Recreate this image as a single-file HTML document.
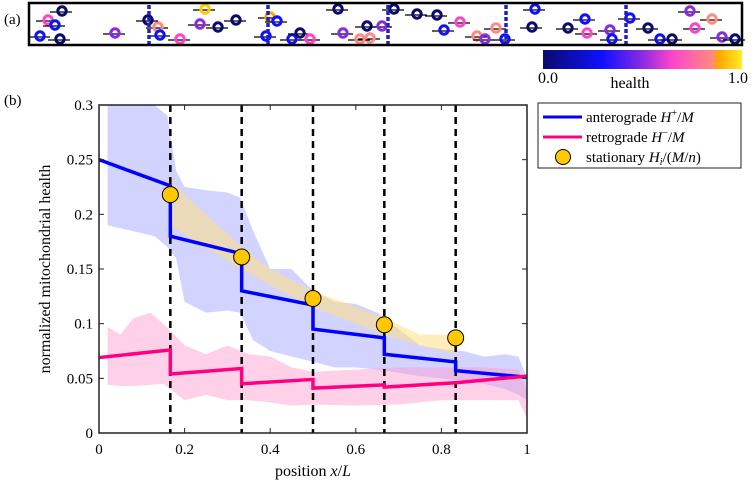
<!DOCTYPE html>
<html><head><meta charset="utf-8"><style>
body{margin:0;background:#fff;}
svg{display:block;font-family:"Liberation Serif",serif;}
</style></head><body>
<svg id="fig" width="753" height="486" viewBox="0 0 753 486">
<defs>
<linearGradient id="cmap" x1="0" x2="1" y1="0" y2="0">
<stop offset="0" stop-color="#0a0a6e"/><stop offset="0.3" stop-color="#1010ff"/><stop offset="0.5" stop-color="#8a2be2"/><stop offset="0.65" stop-color="#ff44cc"/><stop offset="0.85" stop-color="#ff8a80"/><stop offset="0.88" stop-color="#ffa500"/><stop offset="1" stop-color="#ffee22"/>
</linearGradient>
</defs>
<text x="4" y="24" font-size="15">(a)</text>
<g id="strip"></g>
<rect x="29" y="3" width="713" height="42" fill="none" stroke="#000" stroke-width="2.5"/>
<rect x="543" y="50" width="199" height="19" fill="url(#cmap)"/>
<text x="548" y="83" font-size="16" text-anchor="middle">0.0</text>
<text x="630" y="88" font-size="16" text-anchor="middle">health</text>
<text x="738" y="83" font-size="16" text-anchor="middle">1.0</text>
<text x="4" y="105" font-size="15">(b)</text>
<g id="plot"></g>
<g>
<rect x="538" y="103" width="203" height="65" fill="#fff" stroke="#222" stroke-width="1"/>
<line x1="543" y1="117" x2="582" y2="117" stroke="#0000ff" stroke-width="3"/>
<text x="586" y="122" font-size="15">anterograde <tspan font-style="italic">H</tspan><tspan font-size="10" dy="-6">+</tspan><tspan dy="6">/</tspan><tspan font-style="italic">M</tspan></text>
<line x1="543" y1="137" x2="582" y2="137" stroke="#ff0080" stroke-width="3"/>
<text x="586" y="142" font-size="15">retrograde <tspan font-style="italic">H</tspan><tspan font-size="10" dy="-6">−</tspan><tspan dy="6">/</tspan><tspan font-style="italic">M</tspan></text>
<circle cx="563" cy="157" r="7.5" fill="#ffc800" stroke="#000" stroke-width="1"/>
<text x="586" y="162" font-size="15">stationary <tspan font-style="italic">H</tspan><tspan font-size="10" dy="3" font-style="italic">i</tspan><tspan dy="-3">/(</tspan><tspan font-style="italic">M</tspan>/<tspan font-style="italic">n</tspan>)</text>
</g>
</svg>
<script>
const xTicks=[0,0.2,0.4,0.6,0.8,1];
const xTickLabels=["0","0.2","0.4","0.6","0.8","1"];
const yTicks=[0,0.05,0.1,0.15,0.2,0.25,0.3];
const yTickLabels=["0","0.05","0.1","0.15","0.2","0.25","0.3"];
const boundaries=[1/6,2/6,3/6,4/6,5/6];
const anteroX=[0,1/6,1/6,2/6,2/6,3/6,3/6,4/6,4/6,5/6,5/6,1];
const anteroY=[0.25,0.226,0.18,0.164,0.13,0.117,0.095,0.087,0.072,0.065,0.057,0.051];
const retroX=[0,1/6,1/6,2/6,2/6,3/6,3/6,4/6,4/6,5/6,1];
const retroY=[0.069,0.076,0.054,0.059,0.045,0.049,0.041,0.044,0.042,0.046,0.052];
const statX=[1/6,2/6,3/6,4/6,5/6];
const statY=[0.218,0.161,0.123,0.099,0.087];
const blueBandX=[0.02,0.13,0.16,0.18,0.2,0.25,0.3,0.33,0.36,0.4,0.45,0.5,0.55,0.6,0.65,0.7,0.75,0.8,0.85,0.9,0.95,0.98,1.0];
const blueBandHi=[0.3,0.3,0.29,0.24,0.225,0.222,0.22,0.215,0.185,0.15,0.15,0.13,0.12,0.118,0.11,0.095,0.08,0.077,0.075,0.07,0.072,0.07,0.05];
const blueBandLo=[0.19,0.18,0.17,0.16,0.12,0.11,0.112,0.11,0.085,0.075,0.07,0.065,0.06,0.06,0.058,0.055,0.052,0.05,0.048,0.045,0.04,0.035,0.03];
const pinkBandX=[0.02,0.05,0.08,0.12,0.15,0.2,0.25,0.3,0.35,0.4,0.45,0.5,0.6,0.7,0.8,0.9,0.98,1.0];
const pinkBandHi=[0.097,0.09,0.105,0.11,0.1,0.08,0.072,0.08,0.072,0.07,0.06,0.056,0.058,0.06,0.06,0.06,0.058,0.04];
const pinkBandLo=[0.044,0.043,0.043,0.044,0.045,0.03,0.035,0.03,0.03,0.028,0.025,0.026,0.025,0.026,0.03,0.03,0.03,0.013];
const yelBandX=[1/6,0.25,2/6,0.4,0.5,0.6,4/6,0.75,5/6];
const yelBandHi=[0.23,0.2,0.17,0.15,0.13,0.115,0.105,0.09,0.09];
const yelBandLo=[0.19,0.17,0.15,0.135,0.115,0.1,0.09,0.08,0.072];

const X0=99,X1=527,Y0=433,Y1=105;
const sx=v=>X0+(X1-X0)*v;
const sy=v=>Y0-(Y0-Y1)*v/0.3;
const NS="http://www.w3.org/2000/svg";
const plot=document.getElementById('plot');
function mk(tag,attrs,parent){const e=document.createElementNS(NS,tag);for(const k in attrs)e.setAttribute(k,attrs[k]);(parent||plot).appendChild(e);return e;}
function band(xs,hi,lo,color,op,name){
  let d="M"+xs.map((x,i)=>sx(x)+","+sy(hi[i])).join("L");
  for(let i=xs.length-1;i>=0;i--)d+="L"+sx(xs[i])+","+sy(lo[i]);
  const p=mk('path',{d:d+"Z",fill:color,'fill-opacity':op});
  
  
}
band(blueBandX,blueBandHi,blueBandLo,"#a8a8ff",0.5,"anterograde-band");
band(pinkBandX,pinkBandHi,pinkBandLo,"#ff99cc",0.45,"retrograde-band");
band(yelBandX,yelBandHi,yelBandLo,"#ffe080",0.55,"stationary-band");
boundaries.forEach((b,i)=>{
  const l=mk('line',{x1:sx(b),x2:sx(b),y1:Y1,y2:Y0,stroke:"#000",'stroke-width':2.5,'stroke-dasharray':"7 5"});
  
  
});
function line(xs,ys,color,name){
  const p=mk('polyline',{points:xs.map((x,i)=>sx(x)+","+sy(ys[i])).join(" "),fill:"none",stroke:color,'stroke-width':3.5});
  
  
}
line(anteroX,anteroY,"#0000ff","anterograde-line");
line(retroX,retroY,"#ff0080","retrograde-line");
statX.forEach((x,i)=>{
  const c=mk('circle',{cx:sx(x),cy:sy(statY[i]),r:8,fill:"#ffc800",stroke:"#000",'stroke-width':1});
  
  
});
const ax=mk('rect',{x:X0,y:Y1,width:X1-X0,height:Y0-Y1,fill:"none",stroke:"#222",'stroke-width':1.5});


xTicks.forEach((t,i)=>{
  mk('line',{x1:sx(t),x2:sx(t),y1:Y0,y2:Y0-5,stroke:"#222"});
  mk('line',{x1:sx(t),x2:sx(t),y1:Y1,y2:Y1+5,stroke:"#222"});
  const tx=mk('text',{x:sx(t),y:Y0+21,'font-size':15,'text-anchor':'middle'});
  tx.textContent=xTickLabels[i];
  
  
});
yTicks.forEach((t,i)=>{
  mk('line',{x1:X0,x2:X0+5,y1:sy(t),y2:sy(t),stroke:"#222"});
  mk('line',{x1:X1,x2:X1-5,y1:sy(t),y2:sy(t),stroke:"#222"});
  const tx=mk('text',{x:X0-6,y:sy(t)+5,'font-size':15,'text-anchor':'end'});
  tx.textContent=yTickLabels[i];
  
  
});
const xl=mk('text',{x:(X0+X1)/2,y:476,'font-size':16,'text-anchor':'middle'});
xl.innerHTML='position <tspan font-style="italic">x</tspan>/<tspan font-style="italic">L</tspan>';


const yl=mk('text',{x:0,y:0,'font-size':16,'text-anchor':'middle',transform:"translate(50,"+(Y0+Y1)/2+") rotate(-90)"});
yl.textContent='normalized mitochondrial health';



// top strip: mitochondria illustrations
const strip=document.getElementById('strip');
const mitoX=[62,48,55,40,60,115,158,148,160,180,200,205,218,236,270,266,277,292,300,310,338,367,370,360,343,382,394,417,437,444,460,477,485,496,505,535,532,568,585,587,610,612,630,648,660,672,690,695,712,722,735];
const mitoY=[11,20,25,36,42,33,27,20,35,46,24,9,27,20,17,36,21,41,33,46,9,26,38,47,33,26,9,14,15,30,22,36,48,28,42,9,27,28,19,33,30,47,18,28,40,55,11,28,19,37,41];
const mitoC=["#0a0a6e","#ff44cc","#1010ff","#1010ff","#0a0a6e","#8a2be2","#ff8a80","#0a0a6e","#1010ff","#ff44cc","#8a2be2","#ffc800","#0a0a6e","#0a0a6e","#ffa500","#1010ff","#1010ff","#1010ff","#0a0a6e","#ff44cc","#0a0a6e","#0a0a6e","#ff8a80","#ff8a80","#8a2be2","#8a2be2","#0a0a6e","#0a0a6e","#0a0a6e","#1010ff","#ff44cc","#ff8a80","#8a2be2","#ff8a80","#1010ff","#1010ff","#0a0a6e","#0a0a6e","#1010ff","#ff44cc","#8a2be2","#1010ff","#1010ff","#0a0a6e","#1010ff","#0a0a6e","#8a2be2","#ff44cc","#ff8a80","#8a2be2","#0a0a6e"];
mitoX.forEach((x,i)=>{
  const y=Math.min(mitoY[i],39);
  const g=mk('g',{},strip);
  
  
  mk('line',{x1:x-12,x2:x+10,y1:y+1,y2:y+1,stroke:"#000",'stroke-width':1.3},g);
  mk('circle',{cx:x,cy:y,r:4.2,fill:"none",stroke:mitoC[i],'stroke-width':3},g);
});
[149,268,388,506,626].forEach((x,i)=>{
  const l=mk('line',{x1:x,x2:x,y1:5,y2:44,stroke:"#2020c0",'stroke-width':3.5,'stroke-dasharray':"4 2"},strip);
  
  
});
</script>
</body></html>
